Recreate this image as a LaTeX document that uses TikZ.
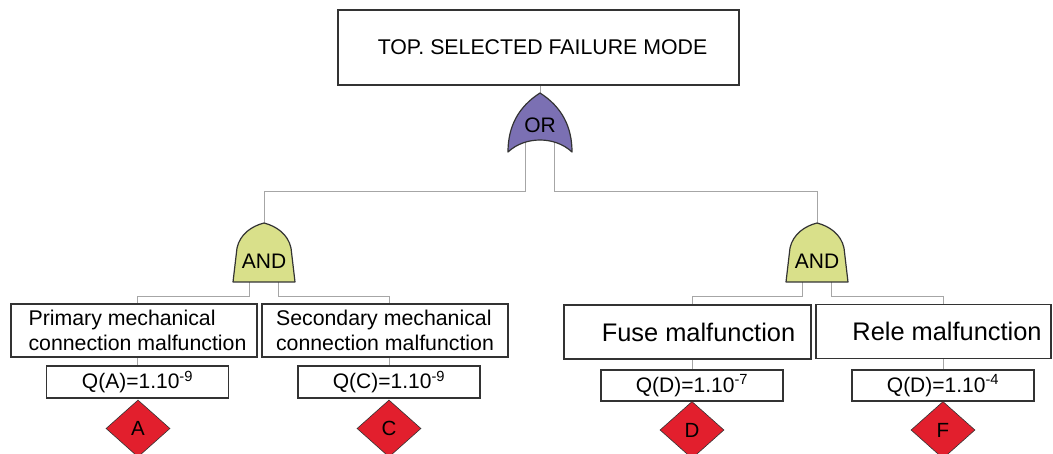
\documentclass[tikz,border=0pt]{standalone}
\usepackage{fontspec}
\setmainfont{Liberation Sans}
\usetikzlibrary{shapes.geometric,calc}

\definecolor{orfill}{HTML}{7B70B3}
\definecolor{andfill}{HTML}{D9E08A}
\definecolor{evtred}{HTML}{E21F2D}
\definecolor{wirecol}{HTML}{A6A6A6}
\definecolor{edgecol}{HTML}{333333}

\newcommand\setsz[2]{\fontsize{#1}{#2}\selectfont}

\pgfdeclarelayer{bg}
\pgfdeclarelayer{wires}
\pgfsetlayers{bg,wires,main}

\tikzset{
  wire/.style={draw=wirecol, line width=1pt},
  gateline/.style={draw=edgecol, line width=1.2pt, line join=round},
  gatetext/.style={inner sep=0pt, font=\setsz{21pt}{24pt}},
  box/.style={draw=edgecol, line width=1.2pt, fill=white, inner sep=0pt},
  descbox/.style={box, minimum width=246pt, minimum height=53pt, align=left,
                  font=\setsz{21.3pt}{25pt}},
  namebox/.style={box, minimum width=247pt, minimum height=54pt,
                  font=\setsz{25.4pt}{28pt}},
  probbox/.style={box, minimum width=182pt, minimum height=32pt,
                  font=\setsz{21pt}{24pt}},
  basic/.style={diamond, draw=edgecol, line width=0.6pt, fill=evtred, inner sep=0pt,
                minimum width=64pt, minimum height=57pt, font=\setsz{20.5pt}{24pt}},
  pics/orgate/.style={code={
    \draw[gateline, fill=orfill] (-32,0)
      .. controls (-32,-25) and (-22,-45) .. (0,-59)
      .. controls (22,-45) and (32,-25) .. (32,0)
      .. controls (15,-16) and (-15,-16) .. cycle;
    \node[gatetext] (-lbl) at (0,-27) {OR};
    \coordinate (-top) at (0,-59);
    \coordinate (-l) at (-15,-10);
    \coordinate (-r) at (14,-10);
  }},
  pics/andgate/.style={code={
    \draw[gateline, fill=andfill] (-31,0) -- (-27,-34)
      .. controls (-24,-48) and (-12,-56) .. (0,-59)
      .. controls (12,-56) and (24,-48) .. (27,-34) -- (31,0) -- cycle;
    \node[gatetext] (-lbl) at (0,-21) {AND};
    \coordinate (-top) at (0,-59);
    \coordinate (-l) at (-15,0);
    \coordinate (-r) at (14,0);
  }},
}

\begin{document}
\begin{tikzpicture}[x=1pt, y=-1pt]
  \useasboundingbox (0,0) rectangle (1053,454);
  \begin{pgfonlayer}{bg}
    \fill[white] (0,0) rectangle (1053,454);
  \end{pgfonlayer}

  % top event
  \node[box, minimum width=401pt, minimum height=75pt, font=\setsz{21.3pt}{25pt}]
    (top) at (538.5,47.5) {\hspace*{8pt}TOP. SELECTED FAILURE MODE};

  % gates
  \pic (or) at (540,152) {orgate};
  \pic (and1) at (264,282) {andgate};
  \pic (and2) at (817,282) {andgate};

  % intermediate events
  \node[descbox] (box1) at (134,330.5)
    {\hspace*{7pt}Primary mechanical\\\hspace*{7pt}connection malfunction};
  \node[descbox] (box2) at (385,330.5) {Secondary mechanical\\connection malfunction};
  \node[namebox] (box3) at (687.5,332) {\hspace*{22pt}Fuse malfunction};
  \node[namebox, minimum width=235pt] (box4) at (933.5,331.5) {\hspace*{27pt}Rele malfunction};

  % probabilities
  \node[probbox] (q1) at (137.5,382) {Q(A)=1.10\textsuperscript{-9}};
  \node[probbox] (q2) at (389,382) {Q(C)=1.10\textsuperscript{-9}};
  \node[probbox, minimum height=31pt] (q3) at (692,385.5) {Q(D)=1.10\textsuperscript{-7}};
  \node[probbox, minimum height=31pt] (q4) at (943,385.5) {Q(D)=1.10\textsuperscript{-4}};

  % basic events
  \node[basic] (ea) at (138,428.5) {A};
  \node[basic] (ec) at (389,428.5) {C};
  \node[basic] (ed) at (692,430) {D};
  \node[basic] (ef) at (943,430) {F};

  % connectors
  \coordinate (busA) at (0,192);
  \coordinate (busB) at (0,297);
  \begin{pgfonlayer}{wires}
    \draw[wire] (top.south -| or-top) -- (or-top);
    \draw[wire] (or-l) -- (or-l |- busA) -| (and1-top);
    \draw[wire] (or-r) -- (or-r |- busA) -| (and2-top);
    \draw[wire] (and1-l) -- (and1-l |- busB) -| (q1 |- box1.north);
    \draw[wire] (and1-r) -- (and1-r |- busB) -| (q2 |- box2.north);
    \draw[wire] (and2-l) -- (and2-l |- busB) -| (q3 |- box3.north);
    \draw[wire] (and2-r) -- (and2-r |- busB) -| (q4 |- box4.north);
    \draw[wire] (q1 |- box1.south) -- (q1.north);
    \draw[wire] (q2 |- box2.south) -- (q2.north);
    \draw[wire] (q3 |- box3.south) -- (q3.north);
    \draw[wire] (q4 |- box4.south) -- (q4.north);
  \end{pgfonlayer}
\end{tikzpicture}
\end{document}
